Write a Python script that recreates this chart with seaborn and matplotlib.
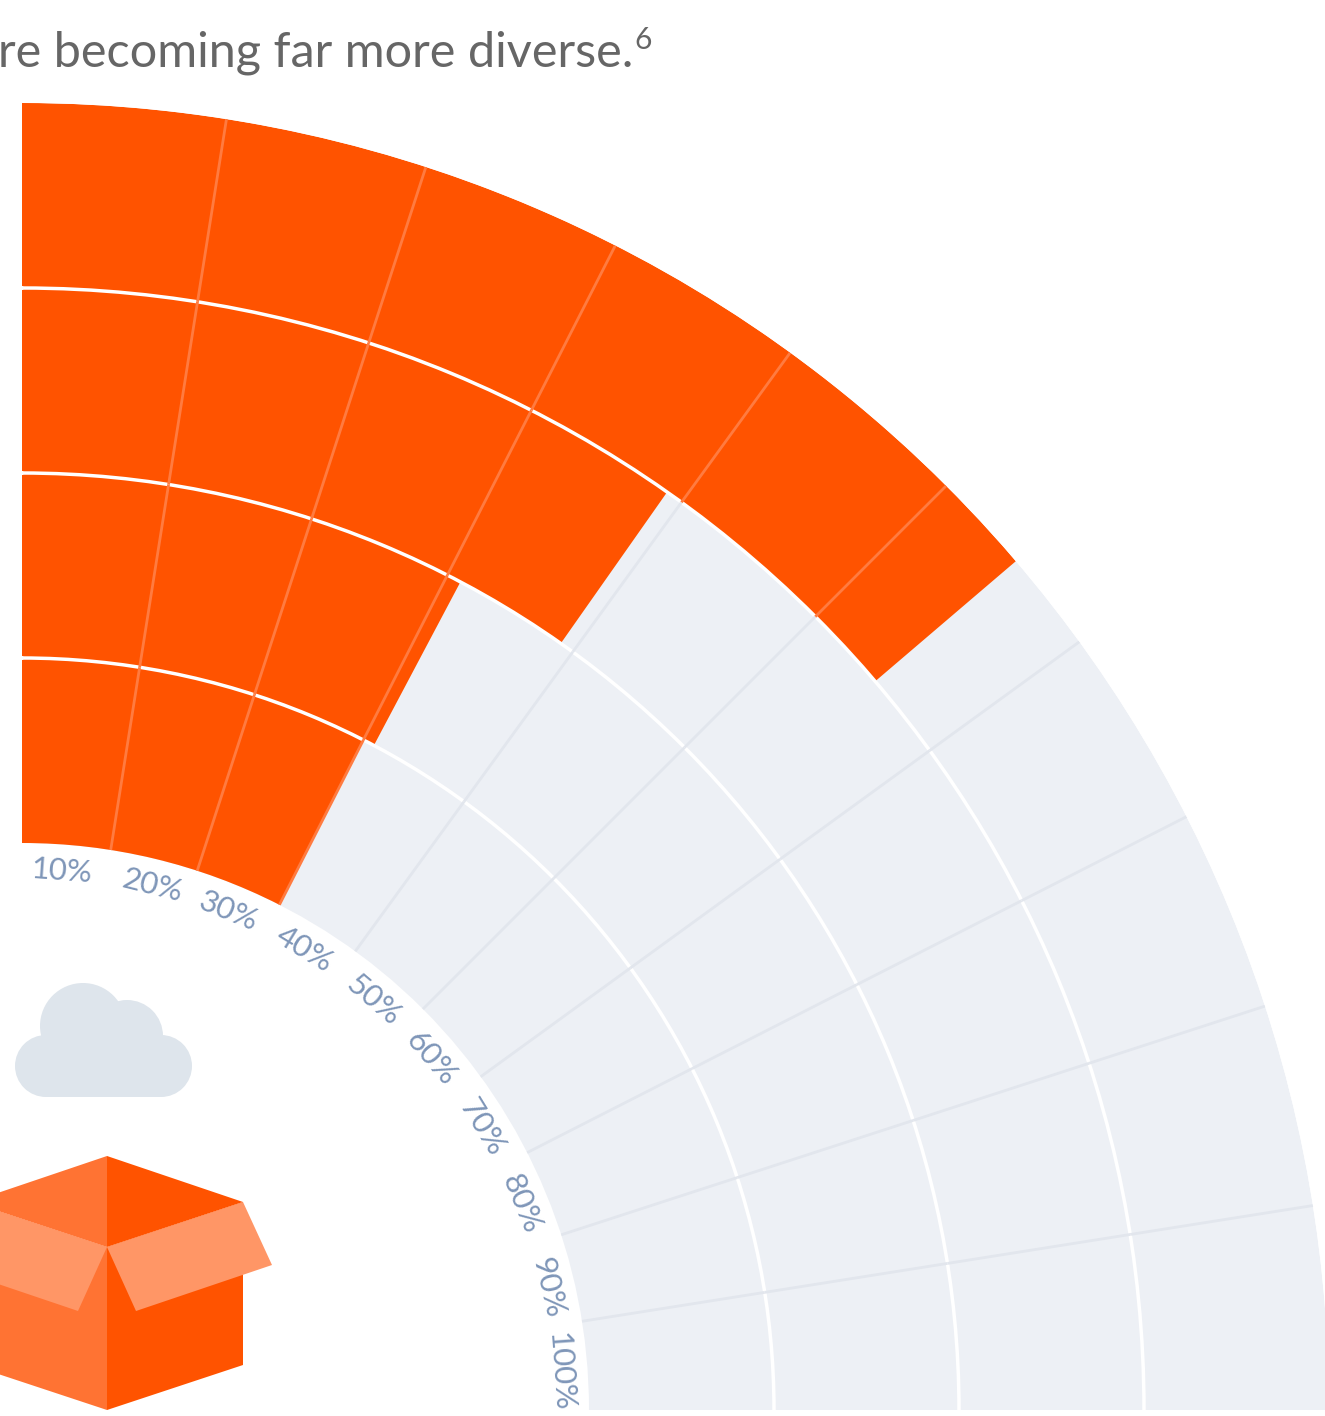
import numpy as np
import pandas as pd
import seaborn as sns
import matplotlib
matplotlib.use("Agg")
import matplotlib.pyplot as plt
from matplotlib.patches import Polygon, Circle
from matplotlib.transforms import Affine2D

# ---- data ----
rings = ["Ring 1", "Ring 2", "Ring 3", "Ring 4"]
shares = [30, 31, 39, 55]
full = [100, 100, 100, 100]
tick_values = [10, 20, 30, 40, 50, 60, 70, 80, 90, 100]
tick_labels = ["10%", "20%", "30%", "40%", "50%", "60%", "70%", "80%", "90%", "100%"]
title_text = "re becoming far more diverse."
title_note = "6"

# ---- style ----
W, H = 1325, 1416
ORANGE = "#FF5300"
ORANGE_LINE = "#FF7B40"
GREY = "#EDF0F5"
GREY_LINE = "#E2E6ED"
LABEL = "#7F96B8"
sns.set_theme(style="white")
plt.rcParams["font.family"] = ["Lato", "DejaVu Sans"]

fig = plt.figure(figsize=(W / 100, H / 100), dpi=100, facecolor="white")

# ---- geometry of the chart in pixels ----
CX, CY = 22, 1410
R_INNER, RING_W = 567, 185
R_OUTER = R_INNER + RING_W * len(rings)
LABEL_OFFSETS = [4.2, 14.0, 22.5, 31.5, 40.6, 49.3, 58.5, 67.6, 76.9, 85.9]  # degrees along the arc
ax = fig.add_axes([(CX - R_OUTER) / W, ((H - CY) - R_OUTER) / H, 2 * R_OUTER / W, 2 * R_OUTER / H],
                  projection="polar")
ax.set_theta_zero_location("N")
ax.set_theta_direction(-1)
ax.patch.set_alpha(0)


def to_theta(p):
    return np.deg2rad(np.asarray(p, dtype=float) * 0.9)


radii = R_INNER + RING_W * (np.arange(len(rings)) + 0.5)
df = pd.DataFrame({"ring": rings, "r": radii,
                   "share": to_theta(shares), "full": to_theta(full)})

sns.barplot(data=df, y="r", x="full", orient="h", native_scale=True, width=1,
            color=GREY, saturation=1, linewidth=0, errorbar=None, ax=ax, zorder=1)
sns.barplot(data=df, y="r", x="share", orient="h", native_scale=True, width=1,
            color=ORANGE, saturation=1, linewidth=0, errorbar=None, ax=ax, zorder=2)

# radial dividers, coloured by whether they fall on a filled part of each ring
for v in tick_values[:-1]:
    for r, s in zip(radii, shares):
        ax.vlines(to_theta(v), r - RING_W / 2, r + RING_W / 2,
                  colors=ORANGE_LINE if v <= s else GREY_LINE,
                  linewidth=2.0, zorder=3)

# white ring separators as radial grid
ax.set_yticks(radii[:-1] + RING_W / 2)
ax.set_yticklabels([])
ax.set_xticks([])
ax.yaxis.grid(True, color="white", linewidth=2.5, zorder=4)
ax.xaxis.grid(False)
ax.set_axisbelow(False)
ax.spines["polar"].set_visible(False)
ax.tick_params(length=0)
ax.set_xlabel("")
ax.set_ylabel("")
ax.set_xlim(0, 2 * np.pi)
ax.set_ylim(0, R_OUTER)

# curved-scale labels
for deg, lab in zip(LABEL_OFFSETS, tick_labels):
    ax.text(np.deg2rad(deg), 540, lab, rotation=-deg, rotation_mode="anchor",
            ha="center", va="center", fontsize=22.5, color=LABEL, zorder=5,
            clip_on=False)

# title fragment as it appears at the figure's left edge
px = Affine2D().scale(1 / W, -1 / H).translate(0, 1) + fig.transFigure
fig.text(633, 66.5, title_text, transform=px, ha="right", va="baseline",
         fontsize=35, color="#666666")
fig.text(634, 49, title_note, transform=px, ha="left", va="baseline",
         fontsize=21.5, color="#666666")


# ---- icons ----
def poly(points, color):
    fig.add_artist(Polygon(points, closed=True, facecolor=color, edgecolor="none", transform=px))


def circ(x, y, r, color="#DEE5EC"):
    fig.add_artist(Circle((x, y), r, facecolor=color, edgecolor="none", transform=px))


for x, y, r in [(83, 1026, 43), (127, 1036, 36), (46, 1066, 31), (161, 1066, 31)]:
    circ(x, y, r)
poly([(46, 1035), (161, 1035), (161, 1097), (46, 1097)], "#DEE5EC")

BOX_R, BOX_L, FLAP = "#FF5300", "#FF7333", "#FF9666"
poly([(107, 1156), (243, 1202), (107, 1247)], BOX_R)
poly([(107, 1156), (-29, 1202), (107, 1247)], BOX_L)
poly([(107, 1247), (243, 1202), (243, 1365), (107, 1410)], BOX_R)
poly([(107, 1247), (-29, 1202), (-29, 1365), (107, 1410)], BOX_L)
poly([(107, 1247), (243, 1202), (272, 1265), (136, 1311)], FLAP)
poly([(107, 1247), (-29, 1202), (-58, 1265), (78, 1311)], FLAP)

fig.savefig("out.png", dpi=100, facecolor="white")
